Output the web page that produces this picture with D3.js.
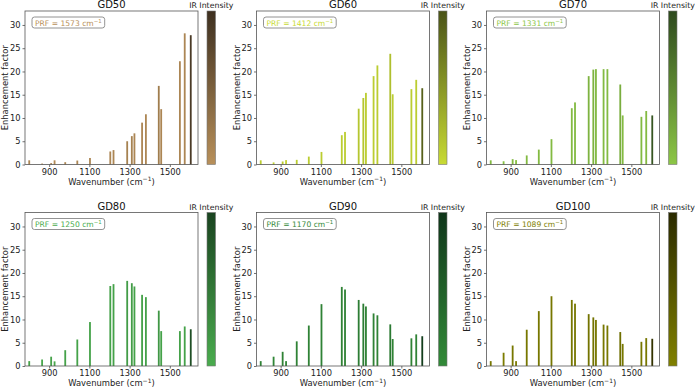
<!DOCTYPE html>
<html><head><meta charset="utf-8">
<script src="https://cdn.jsdelivr.net/npm/d3@7"></script>
<style>body{margin:0;background:#fff}svg{display:block}text{font-family:"DejaVu Sans",sans-serif}</style>
</head><body><svg id="c" width="696" height="388"></svg>
<script>
const wavenumbers = [801, 865, 910, 927, 980, 1040, 1103, 1204, 1220, 1288, 1311, 1324, 1362, 1381, 1445, 1457, 1550, 1574, 1604];
const irIntensity = [0.1, 0.05, 0.1, 0.05, 0.1, 0.1, 0.1, 0.1, 0.1, 0.15, 0.15, 0.1, 0.1, 0.1, 0.2, 0.1, 0.1, 0.1, 0.9];
const gd50  = [0.9, 0.2, 0.3, 0.9, 0.5, 0.85, 1.4, 2.8, 3.1, 5.0, 6.1, 6.7, 9.0, 10.8, 16.9, 11.9, 22.2, 28.2, 27.8];
const gd60  = [0.9, 0.45, 0.65, 0.95, 1.0, 1.7, 2.7, 6.3, 7.0, 12.0, 14.3, 15.4, 19.0, 21.3, 23.8, 15.1, 16.2, 18.2, 16.4];
const gd70  = [0.9, 0.7, 1.15, 0.95, 1.95, 3.2, 5.45, 12.1, 13.35, 19.0, 20.4, 20.5, 20.5, 20.5, 17.2, 10.55, 10.25, 11.5, 10.55];
const gd80  = [1.05, 1.4, 2.0, 1.0, 3.4, 5.7, 9.45, 17.2, 17.6, 18.3, 17.8, 17.1, 15.3, 14.8, 11.9, 7.5, 7.5, 8.5, 7.9];
const gd90  = [1.05, 2.0, 3.05, 1.05, 5.3, 8.7, 13.3, 17.0, 16.45, 14.2, 13.4, 12.8, 11.3, 10.9, 8.95, 5.8, 5.95, 6.8, 6.4];
const gd100 = [1.05, 2.85, 4.4, 1.05, 7.8, 11.8, 15.0, 14.2, 13.4, 11.15, 10.45, 9.9, 8.9, 8.7, 7.3, 4.75, 5.2, 6.0, 5.85];
const titles = ["GD50", "GD60", "GD70", "GD80", "GD90", "GD100"];
const prf = [1573, 1412, 1331, 1250, 1170, 1089];
const baseColors = ["#b8905a", "#c8da34", "#8cc646", "#4aac4e", "#328a38", "#808000"];
const darkColors = ["#3e3020", "#4a5418", "#2e4a1e", "#1a4420", "#10361a", "#2a2a00"];
const xTicks = [900, 1100, 1300, 1500];
const yTicks = [0, 5, 10, 15, 20, 25, 30];
const series = [gd50, gd60, gd70, gd80, gd90, gd100];

const svg = d3.select("#c");
const colLeft = [25, 256.5, 486.5], rowTop = [11, 212.5];
const W = 173, H = 153.5, barW = 9;
const defs = svg.append("defs");

series.forEach((vals, i) => {
  const left = colLeft[i % 3], top = rowTop[Math.floor(i / 3)];
  const g = svg.append("g").attr("transform", `translate(${left},${top})`);
  const x = d3.scaleLinear().domain([780, 1640]).range([0, W]);
  const y = d3.scaleLinear().domain([0, 33]).range([H, 0]);
  const col = d3.scaleLinear().domain([0, 1]).range([baseColors[i], darkColors[i]]).interpolate(d3.interpolateRgb);

  g.selectAll("rect.bar").data(vals).join("rect").attr("class", "bar")
    .attr("x", (d, j) => x(wavenumbers[j] - barW / 2))
    .attr("width", (d, j) => x(wavenumbers[j] + barW / 2) - x(wavenumbers[j] - barW / 2))
    .attr("y", d => y(d)).attr("height", d => y(0) - y(d))
    .attr("fill", (d, j) => col(irIntensity[j]));

  const xa = g.append("g").attr("transform", `translate(0,${H})`)
    .call(d3.axisBottom(x).tickValues(xTicks).tickFormat(d3.format("d")).tickSize(2.5).tickPadding(2));
  const ya = g.append("g").call(d3.axisLeft(y).tickValues(yTicks).tickFormat(d3.format("d")).tickSize(2.5).tickPadding(2));
  [xa, ya].forEach(a => {
    a.select(".domain").remove();
    a.selectAll("line").attr("stroke", "#333").attr("stroke-width", 0.7);
    a.selectAll("text").attr("font-size", 8.3).attr("fill", "#222").attr("font-family", "DejaVu Sans");
  });
  g.append("rect").attr("width", W).attr("height", H).attr("fill", "none")
    .attr("stroke", "#555").attr("stroke-width", 0.8);

  g.append("text").attr("x", W / 2).attr("y", -3).attr("text-anchor", "middle")
    .attr("font-size", 10).attr("fill", "#111").text(titles[i]);

  const xl = g.append("text").attr("x", W / 2).attr("y", H + 20).attr("text-anchor", "middle")
    .attr("font-size", 8.4).attr("fill", "#222");
  xl.append("tspan").text("Wavenumber (cm");
  xl.append("tspan").attr("dy", -3.2).attr("font-size", 6).text("\u22121");
  xl.append("tspan").attr("dy", 3.2).text(")");

  g.append("text").attr("transform", `translate(${-17},${H / 2}) rotate(-90)`)
    .attr("text-anchor", "middle").attr("font-size", 8.4).attr("fill", "#222").text("Enhancement factor");

  // PRF label box
  const bx = 7, by = 6;
  const lg = g.append("g");
  const boxRect = lg.append("rect");
  const t = lg.append("text").attr("x", bx + 3).attr("y", by + 8.5).attr("font-size", 7.6).attr("fill", baseColors[i]);
  t.append("tspan").text(`PRF = ${prf[i]} cm`);
  t.append("tspan").attr("dy", -3).attr("font-size", 5.4).text("\u22121");
  const bb = t.node().getBBox();
  boxRect.attr("x", bx).attr("y", by).attr("rx", 2.5)
    .attr("width", bb.width + 6).attr("height", 11).attr("fill", "#fff")
    .attr("stroke", "#777").attr("stroke-width", 0.8);

  // colorbar
  const gid = "grad" + i;
  const gr = defs.append("linearGradient").attr("id", gid).attr("x1", 0).attr("y1", 1).attr("x2", 0).attr("y2", 0);
  d3.range(0, 1.01, 0.1).forEach(s => gr.append("stop").attr("offset", s).attr("stop-color", col(s)));
  const cx = W + 9, cw = 8.5;
  g.append("rect").attr("x", cx).attr("y", 0).attr("width", cw).attr("height", H)
    .attr("fill", `url(#${gid})`).attr("stroke", "#777").attr("stroke-width", 0.6);
  g.append("text").attr("x", cx + cw / 2).attr("y", -3).attr("text-anchor", "middle")
    .attr("font-size", 7.8).attr("fill", "#222").text("IR Intensity");
});
</script></body></html>
